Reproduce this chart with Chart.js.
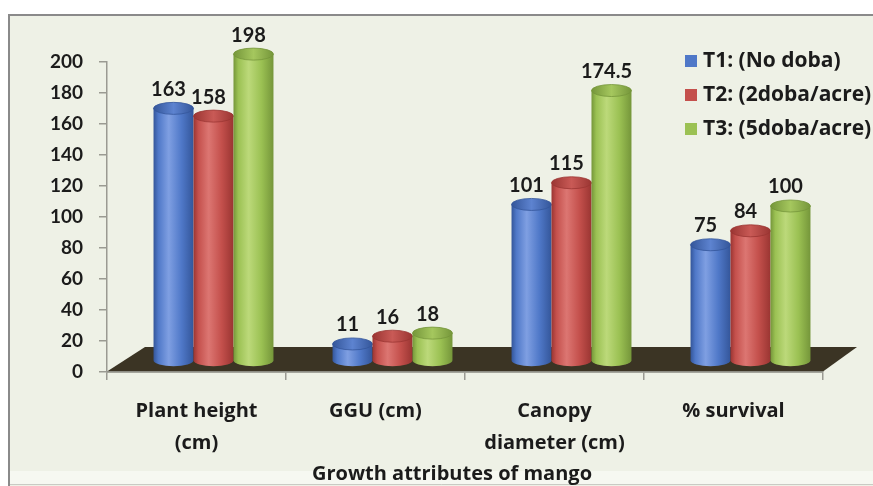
<!DOCTYPE html>
<html>
<head>
<meta charset="utf-8">
<script src="https://cdn.jsdelivr.net/npm/chart.js@4/dist/chart.umd.min.js"></script>
<style>
  html, body { margin: 0; padding: 0; background: #ffffff; }
  #wrap { width: 873px; height: 486px; position: relative; }
</style>
</head>
<body>
<div id="wrap"><canvas id="c" width="873" height="486"></canvas></div>
<script>
// ---- data ----
const categories = [["Plant height", "(cm)"], "GGU (cm)", ["Canopy", "diameter (cm)"], "% survival"];
const seriesLabels = ["T1: (No doba)", "T2: (2doba/acre)", "T3: (5doba/acre)"];
const t1Values = [163, 11, 101, 75];
const t2Values = [158, 16, 115, 84];
const t3Values = [198, 18, 174.5, 100];
const valueLabels = [
  ["163", "11", "101", "75"],
  ["158", "16", "115", "84"],
  ["198", "18", "174.5", "100"]
];
const yTicks = [0, 20, 40, 60, 80, 100, 120, 140, 160, 180, 200];
const xTitle = "Growth attributes of mango";

// ---- styles ----
const FONT = "Lato, 'Open Sans', 'DejaVu Sans', sans-serif";
const TFONT = "'Open Sans', Lato, 'DejaVu Sans', sans-serif";
const palette = [
  { base: "#4f78c8", dark: "#34569a", light: "#7f9fe2", top: "#5d83d0" },
  { base: "#c4504c", dark: "#9a3532", light: "#dc7672", top: "#c95a56" },
  { base: "#9bc153", dark: "#75963a", light: "#bcd97a", top: "#a5c75e" }
];
const DX = 17, DY = 11;           // depth shift of bars
const FLOOR_DX = 38, FLOOR_DY = 25;

const bgPlugin = {
  id: "bg",
  beforeDraw(chart) {
    const ctx = chart.ctx;
    ctx.save();
    ctx.fillStyle = "#ffffff";
    ctx.fillRect(0, 0, chart.width, chart.height);
    ctx.fillStyle = "#eef1e6";
    ctx.fillRect(8, 15, chart.width - 8, chart.height - 15);
    ctx.fillStyle = "#f6f8f1";
    ctx.fillRect(10, 471, chart.width - 10, 13);
    ctx.strokeStyle = "#8a8a8a";
    ctx.lineWidth = 2;
    ctx.beginPath();
    ctx.moveTo(9, chart.height);
    ctx.lineTo(9, 15);
    ctx.lineTo(chart.width, 15);
    ctx.stroke();
    ctx.strokeStyle = "#c9cbc4";
    ctx.lineWidth = 1;
    ctx.beginPath();
    ctx.moveTo(10, 484.5);
    ctx.lineTo(chart.width, 484.5);
    ctx.stroke();
    ctx.restore();
  },
  afterDraw(chart) {
    const ctx = chart.ctx;
    ctx.save();
    ctx.fillStyle = "#1b1b1b";
    ctx.font = "bold 20px " + TFONT;
    ctx.textAlign = "center";
    ctx.textBaseline = "middle";
    ctx.fillText(xTitle, 452, 474);
    ctx.restore();
  }
};

function cylinder(ctx, cx, top, bottom, w, p) {
  const rx = w / 2, ry = 6;
  const left = cx - rx, right = cx + rx;
  const g = ctx.createLinearGradient(left, 0, right, 0);
  g.addColorStop(0, p.dark);
  g.addColorStop(0.12, p.base);
  g.addColorStop(0.38, p.light);
  g.addColorStop(0.7, p.base);
  g.addColorStop(1, p.dark);
  ctx.fillStyle = g;
  ctx.beginPath();
  ctx.moveTo(left, top);
  ctx.lineTo(left, bottom);
  ctx.ellipse(cx, bottom, rx, ry, 0, Math.PI, 0, true);
  ctx.lineTo(right, top);
  ctx.closePath();
  ctx.fill();
  const gt = ctx.createLinearGradient(left, 0, right, 0);
  gt.addColorStop(0, p.dark);
  gt.addColorStop(0.5, p.top);
  gt.addColorStop(1, p.dark);
  ctx.fillStyle = gt;
  ctx.beginPath();
  ctx.ellipse(cx, top, rx, ry, 0, 0, Math.PI * 2);
  ctx.fill();
  ctx.strokeStyle = p.dark;
  ctx.lineWidth = 0.8;
  ctx.stroke();
}

const cylPlugin = {
  id: "cyl",
  beforeDatasetsDraw(chart) {
    const ctx = chart.ctx;
    const xs = chart.scales.x, ys = chart.scales.y;
    const y0 = ys.getPixelForValue(0);
    ctx.save();
    // floor
    ctx.fillStyle = "#3b3424";
    ctx.beginPath();
    ctx.moveTo(xs.left, y0 - 0.5);
    ctx.lineTo(xs.left + FLOOR_DX, y0 - FLOOR_DY);
    ctx.lineTo(xs.right + FLOOR_DX - 4, y0 - FLOOR_DY);
    ctx.lineTo(xs.right, y0 - 0.5);
    ctx.closePath();
    ctx.fill();
    ctx.strokeStyle = "#9a9a92";
    ctx.lineWidth = 1.5;
    ctx.beginPath();
    ctx.moveTo(xs.left, y0);
    ctx.lineTo(xs.right, y0);
    ctx.stroke();
    // bars as cylinders
    chart.data.datasets.forEach((ds, di) => {
      const meta = chart.getDatasetMeta(di);
      meta.data.forEach((el, i) => {
        cylinder(ctx, el.x + DX, el.y - DY, el.base - DY, el.width, palette[di]);
      });
    });
    // value labels
    ctx.fillStyle = "#1b1b1b";
    ctx.font = "bold 20px " + FONT;
    ctx.textAlign = "center";
    ctx.textBaseline = "middle";
    chart.data.datasets.forEach((ds, di) => {
      const meta = chart.getDatasetMeta(di);
      meta.data.forEach((el, i) => {
        ctx.fillText(valueLabels[di][i], el.x + DX - 5, el.y - DY - 19);
      });
    });
    // legend
    ctx.textAlign = "left";
    ctx.font = "bold 21px " + TFONT;
    chart.data.datasets.forEach((ds, di) => {
      const yy = 61 + di * 34;
      ctx.fillStyle = ds.backgroundColor;
      ctx.fillRect(685, yy - 6, 12, 12);
      ctx.fillStyle = "#1b1b1b";
      ctx.fillText(ds.label, 703, yy);
    });
    ctx.restore();
    return false;
  }
};

new Chart(document.getElementById("c"), {
  type: "bar",
  data: {
    labels: categories,
    datasets: [
      { label: seriesLabels[0], data: t1Values, backgroundColor: "#4f78c8" },
      { label: seriesLabels[1], data: t2Values, backgroundColor: "#c4504c" },
      { label: seriesLabels[2], data: t3Values, backgroundColor: "#9bc153" }
    ]
  },
  options: {
    responsive: false,
    animation: false,
    devicePixelRatio: 1,
    layout: { padding: { top: 62, right: 50, left: 0, bottom: 0 } },
    plugins: { legend: { display: false }, tooltip: { enabled: false } },
    datasets: { bar: { categoryPercentage: 0.67, barPercentage: 1.0 } },
    scales: {
      x: {
        grid: { display: true, drawOnChartArea: false, offset: true, tickLength: 8, color: "#9a9a92", lineWidth: 1.5 },
        border: { display: true, color: "#9a9a92", width: 1.5 },
        ticks: { color: "#1b1b1b", font: { family: TFONT, size: 20, weight: "bold", lineHeight: "32px" }, padding: 15, maxRotation: 0, autoSkip: false },
        afterFit(scale) { scale.height = 114; }
      },
      y: {
        min: 0, max: 200,
        afterBuildTicks(scale) { scale.ticks = yTicks.map(v => ({ value: v })); },
        grid: { display: true, drawOnChartArea: false, tickLength: 8, color: "#9a9a92", lineWidth: 1.5 },
        border: { display: true, color: "#9a9a92", width: 1.5 },
        ticks: { color: "#1b1b1b", font: { family: FONT, size: 19, weight: "bold" }, padding: 16 },
        afterFit(scale) { scale.width = 107; }
      }
    }
  },
  plugins: [bgPlugin, cylPlugin]
});
</script>
</body>
</html>
